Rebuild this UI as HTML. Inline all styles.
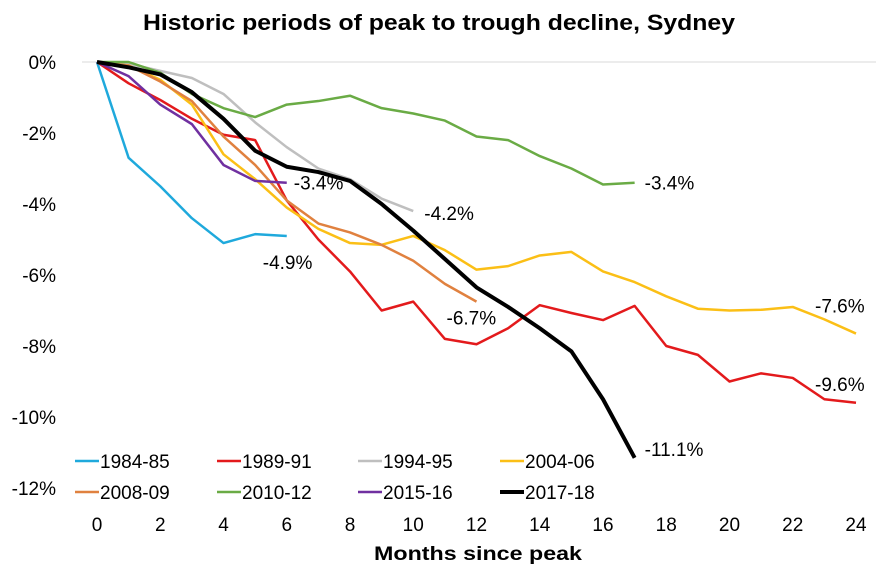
<!DOCTYPE html>
<html><head><meta charset="utf-8"><style>
html,body{margin:0;padding:0;background:#fff;}
svg{display:block;font-family:"Liberation Sans",sans-serif;}
</style></head><body>
<svg id="chart" width="878" height="570" viewBox="0 0 878 570">
<text x="439" y="30" text-anchor="middle" font-size="22" font-weight="bold" textLength="592" lengthAdjust="spacingAndGlyphs">Historic periods of peak to trough decline, Sydney</text>
<line x1="82" y1="62" x2="876" y2="62" stroke="#d9d9d9" stroke-width="1"/>
<g id="yaxis"></g>
<g id="xaxis"></g>
<g id="series"></g>
<g id="labels"></g>
<g id="legend"></g>
<text x="478" y="560" text-anchor="middle" font-size="19" font-weight="bold" textLength="208" lengthAdjust="spacingAndGlyphs">Months since peak</text>
</svg>
<script>
const seriesNames = ["1984-85","1989-91","1994-95","2004-06","2008-09","2010-12","2015-16","2017-18"];
const seriesColors = ["#1fa9dc","#e31a1c","#bfbfbf","#fbbf16","#e0813f","#6aab45","#7030a0","#000000"];
const s1984 = [0,-2.7,-3.5,-4.4,-5.1,-4.85,-4.9];
const s1989 = [0,-0.6,-1.07,-1.6,-2.05,-2.2,-3.9,-5.0,-5.9,-7.0,-6.75,-7.8,-7.95,-7.5,-6.85,-7.07,-7.27,-6.87,-8.0,-8.25,-9.0,-8.77,-8.9,-9.5,-9.6];
const s1994 = [0,-0.05,-0.25,-0.45,-0.9,-1.7,-2.4,-3.0,-3.3,-3.85,-4.2];
const s2004 = [0,-0.1,-0.5,-1.2,-2.6,-3.3,-4.1,-4.7,-5.1,-5.15,-4.9,-5.3,-5.85,-5.75,-5.45,-5.35,-5.9,-6.2,-6.6,-6.95,-7.0,-6.98,-6.9,-7.25,-7.65];
const s2008 = [0,-0.1,-0.55,-1.1,-2.1,-2.9,-3.9,-4.55,-4.8,-5.15,-5.6,-6.25,-6.75];
const s2010 = [0,0,-0.3,-0.9,-1.3,-1.55,-1.2,-1.1,-0.95,-1.3,-1.45,-1.65,-2.1,-2.2,-2.65,-3.0,-3.45,-3.4];
const s2015 = [0,-0.4,-1.2,-1.75,-2.9,-3.35,-3.4];
const s2017 = [0,-0.15,-0.35,-0.85,-1.6,-2.5,-2.95,-3.1,-3.35,-4.0,-4.75,-5.55,-6.35,-6.9,-7.5,-8.15,-9.5,-11.15];
const endLabels = ["-4.9%","-9.6%","-4.2%","-7.6%","-6.7%","-3.4%","-3.4%","-11.1%"];
const yTicks = [0,-2,-4,-6,-8,-10,-12];
const yTickLabels = ["0%","-2%","-4%","-6%","-8%","-10%","-12%"];
const xTicks = [0,2,4,6,8,10,12,14,16,18,20,22,24];

const allSeries = [s1984,s1989,s1994,s2004,s2008,s2010,s2015,s2017];
const X = m => 97 + m * (759/24);
const Y = v => 62 - v * 35.5;
const NS = "http://www.w3.org/2000/svg";
function mk(tag, attrs, parent){const e=document.createElementNS(NS,tag);for(const k in attrs)e.setAttribute(k,attrs[k]);parent.appendChild(e);return e;}

const ya=document.getElementById('yaxis');
yTicks.forEach((v,i)=>{const t=mk('text',{x:56,y:Y(v)+7,'text-anchor':'end','font-size':19},ya);


t.textContent=yTickLabels[i];});
const xa=document.getElementById('xaxis');
xTicks.forEach(m=>{const t=mk('text',{x:X(m),y:531,'text-anchor':'middle','font-size':19},xa);


t.textContent=m;});

const sg=document.getElementById('series');
allSeries.forEach((d,i)=>{
 const p=mk('polyline',{points:d.map((v,m)=>X(m)+','+Y(v)).join(' '),fill:'none',stroke:seriesColors[i],'stroke-width':i===7?4:2.5,'stroke-linejoin':'round'},sg);
 
 
});

// end labels positioned relative to the last point of each series
const offs=[[-24,26],[-41,-19],[11,2],[-41,-28],[-30,16],[10,0],[7,0],[10,-9]];
const lg=document.getElementById('labels');
allSeries.forEach((d,i)=>{
 const m=d.length-1;
 const t=mk('text',{x:X(m)+offs[i][0],y:Y(d[m])+offs[i][1]+7,'font-size':19},lg);
 
 
 t.textContent=endLabels[i];
});

const leg=document.getElementById('legend');
const colX=[75,217,358,500], rowY=[461,492];
seriesNames.forEach((n,i)=>{
 const x=colX[i%4], y=rowY[Math.floor(i/4)];
 const g=mk('g',{},leg);
 
 
 mk('line',{x1:x,y1:y,x2:x+24,y2:y,stroke:seriesColors[i],'stroke-width':i===7?4:2.5},g);
 const t=mk('text',{x:x+25,y:y+7,'font-size':19},g);
 t.textContent=n;
});
</script>
</body></html>
